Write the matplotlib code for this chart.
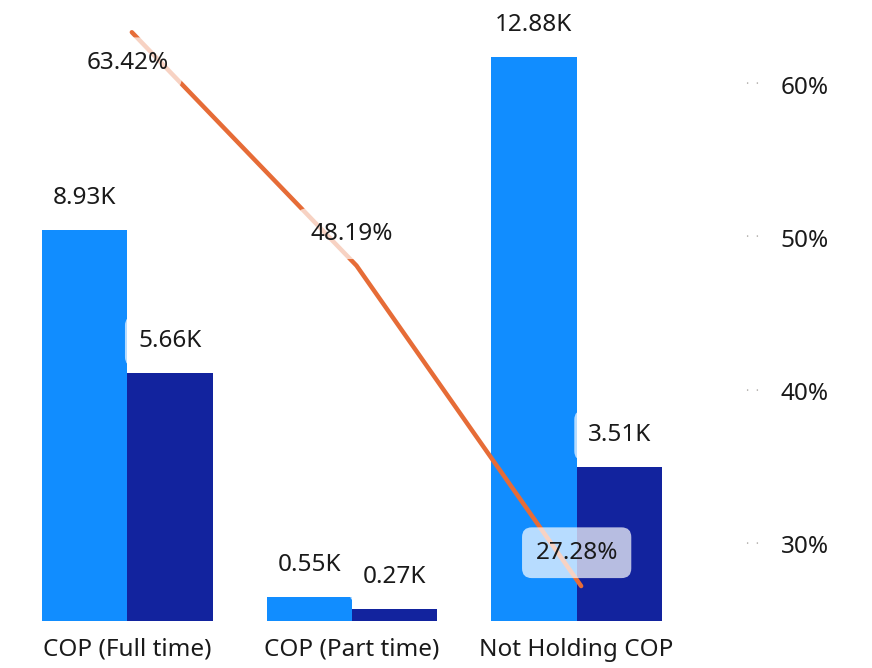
import numpy as np
import matplotlib
matplotlib.use('Agg')
import matplotlib.pyplot as plt
import matplotlib.transforms as mtransforms

# data
categories = ['COP (Full time)', 'COP (Part time)', 'Not Holding COP']
series_a = [8.93, 0.55, 12.88]      # thousands
series_b = [5.66, 0.27, 3.51]       # thousands
ratio = [63.42, 48.19, 27.28]       # percent
ratio_ticks = [30, 40, 50, 60]

light_blue = '#118DFF'
dark_blue = '#12239E'
orange = '#E66C37'
txt = '#1a1a1a'

plt.rcParams['font.family'] = ['Noto Sans', 'DejaVu Sans']
fs = 17.5

fig = plt.figure(figsize=(8.72, 6.68), dpi=100)
ax = fig.add_axes([15/872, 1 - 621/668, (689 - 15)/872, (621 - 8)/668])
ax2 = ax.twinx()

x = np.arange(len(categories))
w = 0.38
bars_a = ax.bar(x - w/2, series_a, w, color=light_blue, zorder=2)
bars_b = ax.bar(x + w/2, series_b, w, color=dark_blue, zorder=2)
ax.set_ylim(0, 14)
ax.set_xlim(-0.5, len(categories) - 0.5)

box = dict(boxstyle='round,pad=0.55,rounding_size=0.4', fc='white', ec='none', alpha=0.7)

for bars, vals in [(bars_a, series_a), (bars_b, series_b)]:
    for b, v in zip(bars, vals):
        ax.annotate(f'{v:.2f}K', (b.get_x() + b.get_width()/2, v),
                    xytext=(0, 23), textcoords='offset points',
                    ha='center', va='center', fontsize=fs, color=txt,
                    bbox=box, zorder=5)

ax.set_xticks(x)
ax.set_xticklabels(categories, fontsize=fs, color=txt)
ax.tick_params(axis='x', length=0, pad=12)
ax.set_yticks([])
for s in ax.spines.values():
    s.set_visible(False)

# line on secondary axis
ax2.plot(x + 0.02, ratio, color=orange, lw=3.2, solid_capstyle='round', zorder=3)
ax2.set_ylim(25, 65)
offsets = [-22, 23, 24]
for xi, r, off in zip(x, ratio, offsets):
    ax2.annotate(f'{r:.2f}%', (xi, r), xytext=(0, off), textcoords='offset points',
                 ha='center', va='center', fontsize=fs, color=txt,
                 bbox=box, zorder=6)

ax2.set_yticks(ratio_ticks)
ax2.set_yticklabels([f'{t}%' for t in ratio_ticks], fontsize=fs, color=txt)
ax2.tick_params(axis='y', length=0, pad=66)
for s in ax2.spines.values():
    s.set_visible(False)
trans = mtransforms.blended_transform_factory(ax2.transAxes, ax2.transData)
for t in ratio_ticks:
    ax2.annotate('·  ·', (1, t), xycoords=trans, xytext=(46, 0), textcoords='offset points',
                 ha='center', va='center', fontsize=9, color='#B3B0AD')

# line above bars
ax.set_zorder(1)
ax2.set_zorder(2)
ax2.patch.set_visible(False)

fig.savefig('out.png', dpi=100)
